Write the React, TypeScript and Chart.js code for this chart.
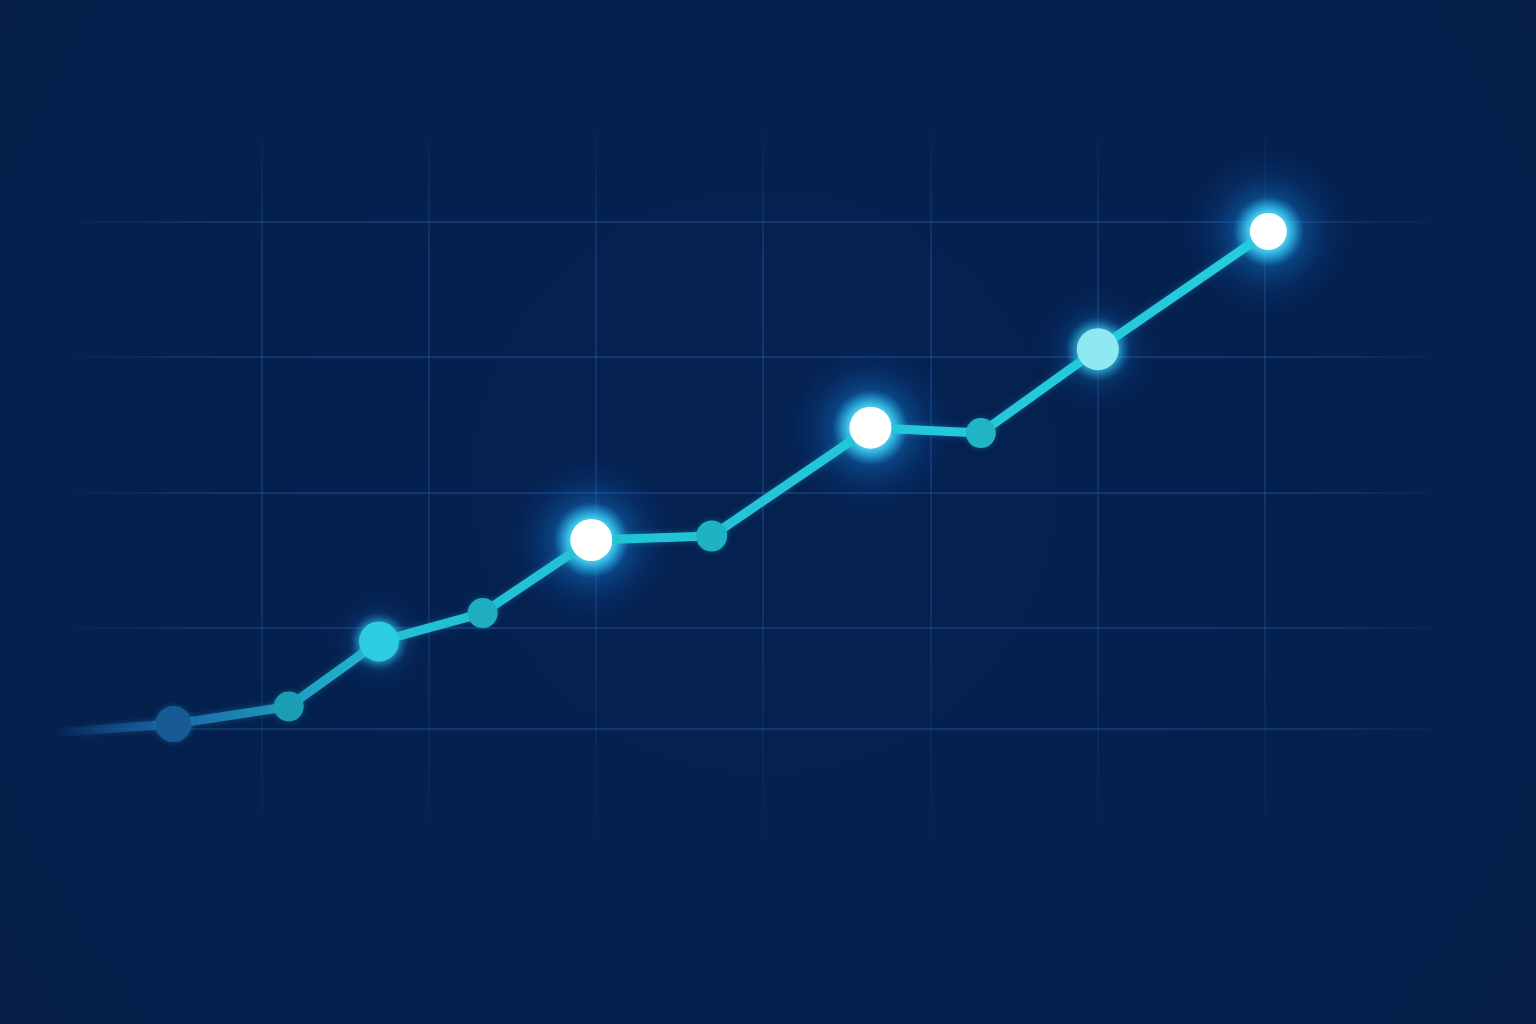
import React, { useEffect, useRef } from "react";
import { Chart, registerables } from "chart.js";

Chart.register(...registerables);

// ---- data ----
const X_GRID = [1, 2, 3, 4, 5, 6, 7];
const Y_GRID = [2.5, 10, 20, 30, 40];
// first entry is the faded lead-in tail (no marker)
const X_VALUES = [-0.21, 0.47, 1.16, 1.7, 2.32, 2.97, 3.69, 4.64, 5.3, 6.0, 7.02];
const Y_VALUES = [2.3, 2.9, 4.2, 9.0, 11.1, 16.5, 16.8, 24.8, 24.4, 30.6, 39.3];

// ---- styles ----
const POINT_RADIUS = [0, 18, 15, 20, 15, 21, 15.5, 21, 15, 21, 18.5];
const POINT_COLOR = [
  "rgba(0,0,0,0)",
  "#175a96",
  "#1c9db3",
  "#2ccde0",
  "#1eaec0",
  "#ffffff",
  "#1fb2c2",
  "#ffffff",
  "#20b4c4",
  "#8ee9f2",
  "#ffffff",
];
const GLOW = [0, 0, 0, 0.45, 0, 1, 0, 1, 0, 0.6, 1];

const X_MIN = -0.567;
const X_MAX = 8.621;
const Y_MIN = -19.26;
const Y_MAX = 56.4;

const backgroundPlugin = {
  id: "bg",
  beforeDraw(chart: any) {
    const { ctx, width, height } = chart;
    ctx.save();
    const g = ctx.createRadialGradient(width * 0.5, height * 0.47, 50, width * 0.5, height * 0.47, width * 0.75);
    g.addColorStop(0, "rgb(4,33,80)");
    g.addColorStop(0.6, "rgb(4,32,77)");
    g.addColorStop(1, "rgb(6,29,68)");
    ctx.fillStyle = g;
    ctx.fillRect(0, 0, width, height);
    ctx.restore();
  },
};

const glowPlugin = {
  id: "glow",
  beforeDatasetsDraw(chart: any) {
    const meta = chart.getDatasetMeta(0);
    const ctx = chart.ctx;
    ctx.save();
    meta.data.forEach((pt: any, i: number) => {
      const s = GLOW[i];
      if (!s) return;
      const { x, y } = pt.getProps(["x", "y"], true);
      const r = POINT_RADIUS[i];
      // soft wide halo
      const R = r + 65 * s;
      const halo = ctx.createRadialGradient(x, y, r * 0.8, x, y, R);
      halo.addColorStop(0, `rgba(35,170,235,${0.75 * s})`);
      halo.addColorStop(0.25, `rgba(20,130,215,${0.42 * s})`);
      halo.addColorStop(0.6, `rgba(15,95,185,${0.18 * s})`);
      halo.addColorStop(1, "rgba(10,70,160,0)");
      ctx.fillStyle = halo;
      ctx.beginPath();
      ctx.arc(x, y, R, 0, Math.PI * 2);
      ctx.fill();
      // tight cyan ring
      const R2 = r + 14 * s + 3;
      const ring = ctx.createRadialGradient(x, y, r * 0.8, x, y, R2);
      ring.addColorStop(0, `rgba(120,238,252,${0.95 * s})`);
      ring.addColorStop(0.45, `rgba(60,210,245,${0.6 * s})`);
      ring.addColorStop(1, "rgba(40,180,240,0)");
      ctx.fillStyle = ring;
      ctx.beginPath();
      ctx.arc(x, y, R2, 0, Math.PI * 2);
      ctx.fill();
    });
    ctx.restore();
  },
  beforeDatasetDraw(chart: any) {
    const ctx = chart.ctx;
    ctx.save();
    ctx.shadowColor = "rgba(40,200,235,0.3)";
    ctx.shadowBlur = 6;
  },
  afterDatasetDraw(chart: any) {
    chart.ctx.restore();
  },
};

function lineGradient(ctx: any) {
  const chart = ctx.chart;
  const g = chart.ctx.createLinearGradient(0, 0, chart.width, 0);
  g.addColorStop(0.035, "rgba(20,80,150,0)");
  g.addColorStop(0.11, "rgba(25,100,165,1)");
  g.addColorStop(0.19, "rgb(32,155,192)");
  g.addColorStop(0.26, "rgb(34,192,212)");
  g.addColorStop(1, "rgb(38,208,224)");
  return g;
}

function vGridColor(ctx: any) {
  const chart = ctx.chart;
  const g = chart.ctx.createLinearGradient(0, 0, 0, chart.height);
  g.addColorStop(0.12, "rgba(50,100,180,0)");
  g.addColorStop(0.25, "rgba(50,100,180,0.3)");
  g.addColorStop(0.6, "rgba(50,100,180,0.26)");
  g.addColorStop(0.83, "rgba(50,100,180,0)");
  return g;
}

function hGridColor(ctx: any) {
  const chart = ctx.chart;
  const g = chart.ctx.createLinearGradient(0, 0, chart.width, 0);
  g.addColorStop(0.035, "rgba(50,100,180,0)");
  g.addColorStop(0.15, "rgba(50,100,180,0.32)");
  g.addColorStop(0.85, "rgba(50,100,180,0.32)");
  g.addColorStop(0.945, "rgba(50,100,180,0)");
  return g;
}

export default function App() {
  const ref = useRef<HTMLCanvasElement | null>(null);

  useEffect(() => {
    document.body.style.margin = "0";
    const canvas = ref.current;
    if (!canvas) return;
    const data = X_VALUES.map((x, i) => ({ x, y: Y_VALUES[i] }));
    const chart = new Chart(canvas, {
      type: "line",
      data: {
        datasets: [
          {
            data,
            borderColor: lineGradient as any,
            borderWidth: 9,
            borderJoinStyle: "round",
            borderCapStyle: "round",
            tension: 0,
            fill: false,
            pointRadius: POINT_RADIUS,
            pointBackgroundColor: POINT_COLOR,
            pointBorderWidth: 0,
            pointBorderColor: "rgba(0,0,0,0)",
          } as any,
        ],
      },
      options: {
        responsive: false,
        animation: false,
        events: [],
        devicePixelRatio: 1,
        layout: { padding: 0, autoPadding: false } as any,
        plugins: { legend: { display: false }, tooltip: { enabled: false } },
        scales: {
          x: {
            type: "linear",
            min: X_MIN,
            max: X_MAX,
            afterBuildTicks: (scale: any) => {
              scale.ticks = X_GRID.map((v) => ({ value: v }));
            },
            ticks: { display: false },
            border: { display: false },
            grid: { color: vGridColor as any, lineWidth: 2, drawTicks: false },
          },
          y: {
            type: "linear",
            min: Y_MIN,
            max: Y_MAX,
            afterBuildTicks: (scale: any) => {
              scale.ticks = Y_GRID.map((v) => ({ value: v }));
            },
            ticks: { display: false },
            border: { display: false },
            grid: { color: hGridColor as any, lineWidth: 2, drawTicks: false },
          },
        },
      },
      plugins: [backgroundPlugin, glowPlugin],
    });
    return () => chart.destroy();
  }, []);

  return (
    <div style={{ position: "fixed", left: 0, top: 0, width: 1536, height: 1024, background: "#04204e" }}>
      <canvas ref={ref} width={1536} height={1024} style={{ display: "block", width: 1536, height: 1024 }} />
    </div>
  );
}
